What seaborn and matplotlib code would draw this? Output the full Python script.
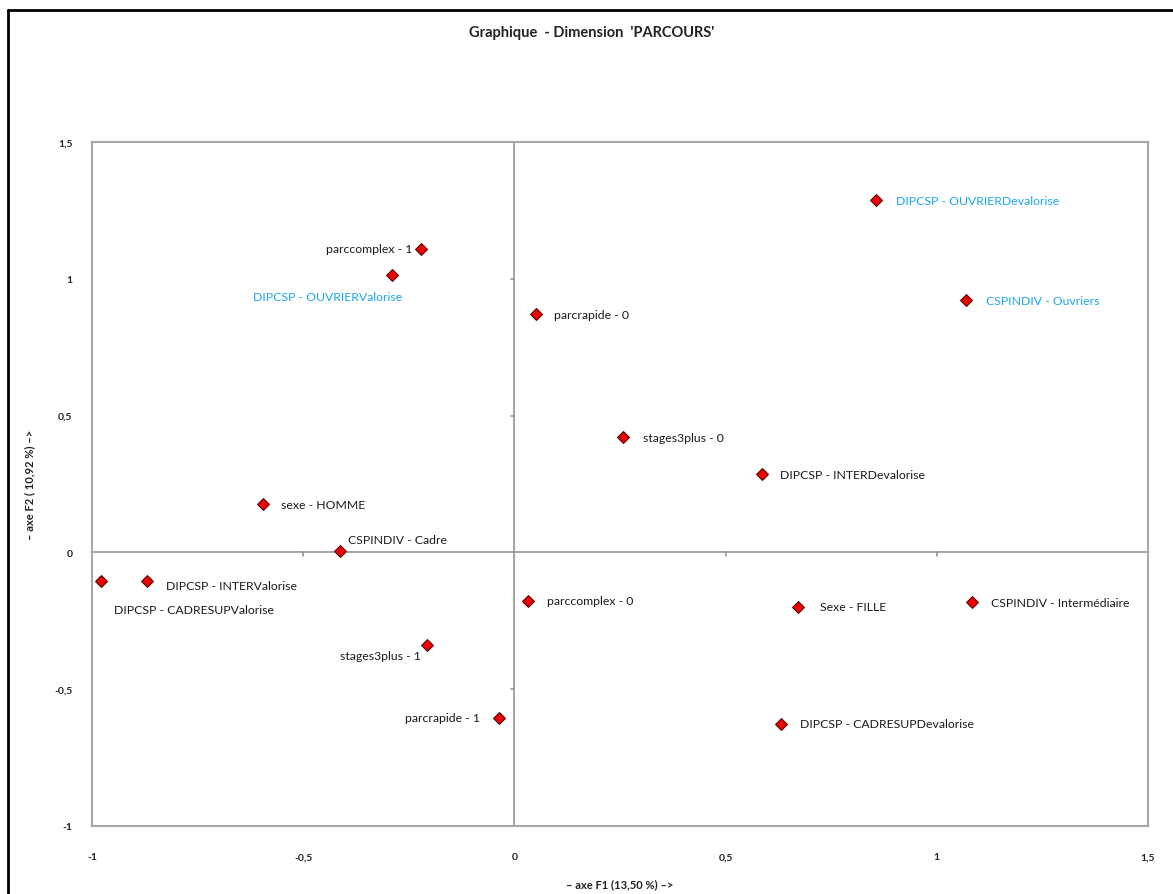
import matplotlib
matplotlib.use("Agg")
import matplotlib.pyplot as plt
import seaborn as sns
import pandas as pd
from matplotlib.lines import Line2D

labels = [
    "parccomplex - 1", "DIPCSP - OUVRIERValorise", "parcrapide - 0",
    "DIPCSP - OUVRIERDevalorise", "CSPINDIV - Ouvriers", "stages3plus - 0",
    "DIPCSP - INTERDevalorise", "sexe - HOMME", "CSPINDIV - Cadre",
    "DIPCSP - CADRESUPValorise", "DIPCSP - INTERValorise", "parccomplex - 0",
    "Sexe - FILLE", "CSPINDIV - Intermédiaire", "stages3plus - 1",
    "parcrapide - 1", "DIPCSP - CADRESUPDevalorise",
]
f1 = [-0.220, -0.289, 0.050, 0.855, 1.068, 0.256, 0.587, -0.594, -0.414,
      -0.978, -0.869, 0.033, 0.672, 1.084, -0.206, -0.036, 0.632]
f2 = [1.109, 1.014, 0.871, 1.288, 0.922, 0.421, 0.285, 0.176, 0.004,
      -0.106, -0.106, -0.176, -0.198, -0.183, -0.337, -0.604, -0.626]
highlight = [False, True, False, True, True, False, False, False, False,
             False, False, False, False, False, False, False, False]

x_ticks = [-1, -0.5, 0, 0.5, 1, 1.5]
y_ticks = [-1, -0.5, 0, 0.5, 1, 1.5]
tick_text = ["-1", "-0,5", "0", "0,5", "1", "1,5"]

# label offsets in pixels (dx, dy, ha)
offsets = [(-9, 0, "right"), (10, -22, "right"), (18, 0, "left"),
           (20, 0, "left"), (20, 0, "left"), (20, 0, "left"),
           (18, 0, "left"), (18, 0, "left"), (8, 12, "left"),
           (13, -28, "left"), (19, -4, "left"), (19, 0, "left"),
           (22, 0, "left"), (19, 0, "left"), (-7, -11, "right"),
           (-19, 0, "right"), (19, 0, "left")]

df = pd.DataFrame({"F1": f1, "F2": f2, "label": labels})

sns.set_style("white")
plt.rcParams["font.family"] = ["Lato", "DejaVu Sans"]

W, H = 1173, 895
fig = plt.figure(figsize=(W / 100, H / 100), dpi=100)
ax = fig.add_axes([92 / W, 1 - 827 / H, (1148 - 92) / W, (827 - 143) / H])

ax.axhline(0, color="#8c8c8c", lw=1.1, zorder=1)
ax.axvline(0, color="#8c8c8c", lw=1.1, zorder=1)

sns.scatterplot(data=df, x="F1", y="F2", marker="D", s=36, color="#ee0000",
                edgecolor="#5a0000", linewidth=0.8, ax=ax, zorder=3, legend=False)

ax.set_xlim(-1, 1.5)
ax.set_ylim(-1, 1.5)

# small tick marks on the central axes
for t in x_ticks:
    if t not in (-1, 0, 1.5):
        ax.add_line(Line2D([t, t], [0, -0.014], color="#8c8c8c", lw=1.1, zorder=1))
for t in y_ticks:
    if t not in (-1, 0, 1.5):
        ax.add_line(Line2D([0, -0.009], [t, t], color="#8c8c8c", lw=1.1, zorder=1))

for lab, x, y, hl, (dx, dy, ha) in zip(labels, f1, f2, highlight, offsets):
    ax.annotate(lab, (x, y), xytext=(dx * 0.72, dy * 0.72), textcoords="offset points",
                ha=ha, va="center", fontsize=8.8,
                color="#1aa7ec" if hl else "#1a1a1a", zorder=4)

ax.set_xticks(x_ticks)
ax.set_yticks(y_ticks)
ax.set_xticklabels(tick_text, fontsize=7.5, fontweight="bold", color="#222222")
ax.set_yticklabels(tick_text, fontsize=7.5, fontweight="bold", color="#222222")
ax.tick_params(axis="x", length=0, pad=19)
ax.tick_params(axis="y", length=0, pad=14)

for s in ax.spines.values():
    s.set_color("#a6a6a6")
    s.set_linewidth(1.5)

ax.set_xlabel("– axe F1 (13,50 %) –>", fontsize=8, fontweight="bold", color="#222222",
              labelpad=12)
ax.set_ylabel("– axe F2 ( 10,92 %) –>", fontsize=8, fontweight="bold", color="#222222",
              labelpad=14)

fig.text(592 / W, 1 - 33 / H, "Graphique  - Dimension  'PARCOURS'", ha="center", va="center",
         fontsize=10.5, fontweight="bold", color="#222222")

# outer frame (left and top edges visible)
fig.add_artist(Line2D([8 / W, 8 / W], [0, 1 - 11 / H], transform=fig.transFigure,
                      color="black", lw=2))
fig.add_artist(Line2D([8 / W, 1], [1 - 11 / H, 1 - 11 / H], transform=fig.transFigure,
                      color="black", lw=2))

fig.savefig("out.png", dpi=100)
